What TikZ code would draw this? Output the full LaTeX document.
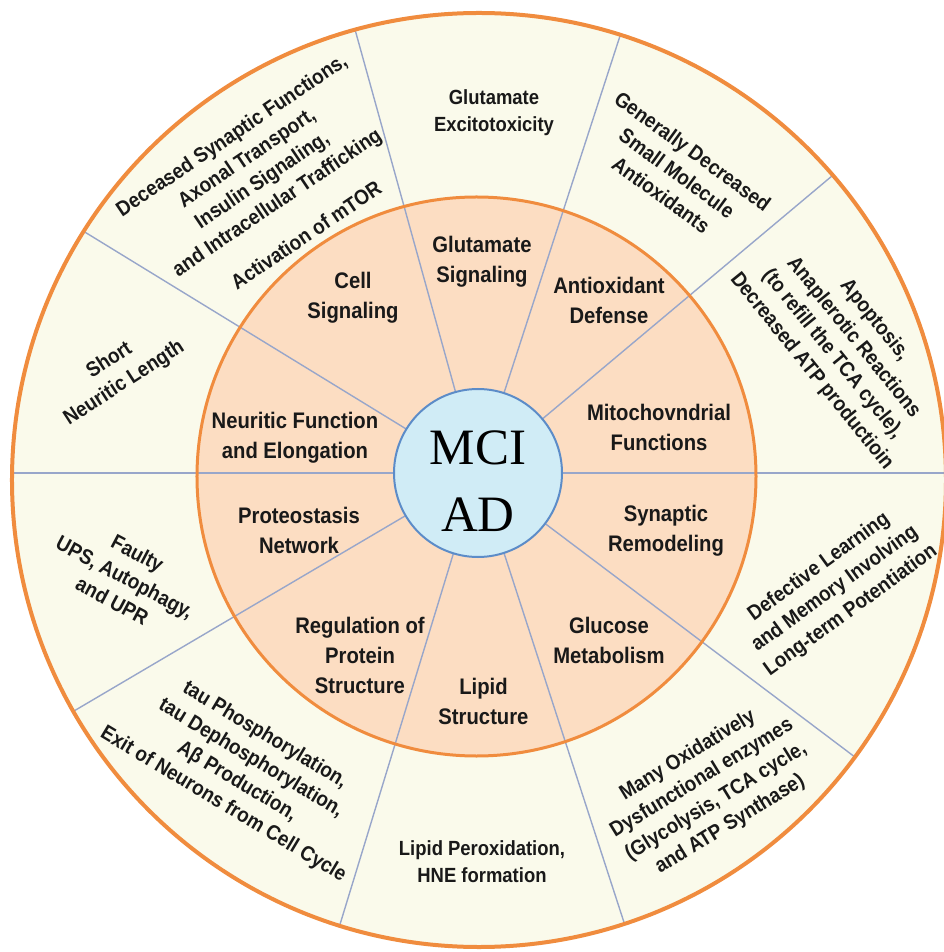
\documentclass[tikz,border=0pt]{standalone}
\usepackage{fontspec}
\usepackage{xcolor}
\usepackage{tikz}
\newfontfamily\lblfont[FakeStretch=0.9]{Liberation Sans}
\newfontfamily\hubfont{Liberation Serif}

\definecolor{creamfill}{RGB}{250,250,235}
\definecolor{peachfill}{RGB}{252,221,194}
\definecolor{hubfill}{RGB}{208,236,246}
\definecolor{hubline}{RGB}{92,140,200}
\definecolor{rimorange}{RGB}{240,140,62}
\definecolor{spokeblue}{RGB}{152,166,202}
\definecolor{labeltext}{RGB}{25,25,25}

\tikzset{
	spoke/.style={spokeblue,line width=1.4pt},
	rim/.style={rimorange},
	inlabel/.style={align=center,text=labeltext,font=\lblfont\bfseries\fontsize{22.5}{30}\selectfont},
	outlabel/.style={align=center,text=labeltext,font=\lblfont\bfseries\fontsize{21}{27}\selectfont},
	flatlabel/.style={outlabel,font=\lblfont\bfseries\fontsize{20.5}{27}\selectfont}
}

\begin{document}
\begin{tikzpicture}[x=1pt,y=1pt]
		\useasboundingbox (-478,-479) rectangle (465,473);
		\fill[white] (-478,-479) rectangle (465,473);
		\coordinate (O) at (0,0);
		\coordinate (Omid) at (-1.5,-3.5);
		\coordinate (Oout) at (1,-7);
		
		% rings
		\fill[creamfill] (Oout) circle (467pt);
		\fill[peachfill] (Omid) circle (279.5pt);
		\begin{scope}
			\clip (Oout) circle (467pt);
			\foreach \a in {0,40,72,105.5,148.5,180,210.5,253,288,323}
				\draw[spoke] (O) -- (\a:490pt);
		\end{scope}
		\draw[rim,line width=3pt] (Omid) circle (279.5pt);
		\draw[rim,line width=4pt] (Oout) circle (467pt);
		\filldraw[fill=hubfill,draw=hubline,line width=2pt] (O) circle (84pt);
		\node[font=\hubfont\fontsize{51}{67}\selectfont,align=center] (hub) at (0,-8) {MCI\\AD};
		
		% inner ring
		\node[inlabel] (cellsig) at (-125,175) {Cell\\Signaling};
		\node[inlabel] (glusig) at (4,211) {Glutamate\\Signaling};
		\node[inlabel] (antiox) at (131,173) {Antioxidant\\Defense};
		\node[inlabel] (mito) at (181,45.5) {Mitochovndrial\\Functions};
		\node[inlabel] (synrem) at (188,-58) {Synaptic\\Remodeling};
		\node[inlabel] (glumet) at (131,-167) {Glucose\\Metabolism};
		\node[inlabel] (lipstr) at (5.5,-228) {Lipid\\Structure};
		\node[inlabel] (protreg) at (-118,-182) {Regulation of\\Protein\\Structure};
		\node[inlabel] (proteo) at (-179,-57) {Proteostasis\\Network};
		\node[inlabel] (neurit) at (-183,35) {Neuritic Function\\and Elongation};
		
		% outer ring
		\node[flatlabel] (excito) at (16,360) {Glutamate\\Excitotoxicity};
		\node[flatlabel] (lipperox) at (4,-389) {Lipid Peroxidation,\\HNE formation};
		\node[outlabel,rotate=33] (shortneu) at (-361,101) {Short\\Neuritic Length};
		\node[outlabel,rotate=34] (synfun) at (-223,303) {Deceased Synaptic Functions,\\Axonal Transport,\\Insulin Signaling,\\and Intracellular Trafficking};
		\node[outlabel,rotate=34] (mtor) at (-172,238) {Activation of mTOR};
		\node[outlabel,rotate=-36] (smallmol) at (199,300) {Generally Decreased\\Small Molecule\\Antioxidants};
		\node[outlabel,rotate=-51] (apopt) at (365,127) {Apoptosis,\\Anaplerotic Reactions\\(to refill the TCA cycle),\\Decreased ATP productioin};
		\node[outlabel,rotate=-28] (faulty) at (-353,-104) {Faulty\\UPS, Autophagy,\\and UPR};
		\node[outlabel,rotate=-31] (taupho) at (-234,-297) {tau Phosphorylation,\\tau Dephosphorylation,\\Aβ Production,\\Exit of Neurons from Cell Cycle};
		\node[outlabel,rotate=36] (ltp) at (357,-116) {Defective Learning\\and Memory Involving\\Long-term Potentiation};
		\node[outlabel,rotate=31.5] (oxenz) at (231,-317) {Many Oxidatively\\Dysfunctional enzymes\\(Glycolysis, TCA cycle,\\and ATP Synthase)};
	\end{tikzpicture}
\end{document}
